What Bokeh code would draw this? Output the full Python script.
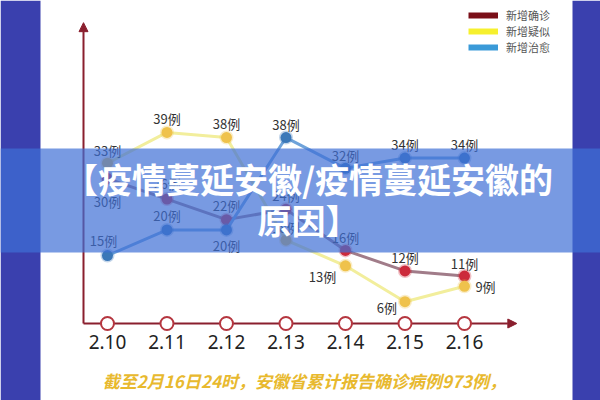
from bokeh.plotting import figure
from bokeh.models import (ColumnDataSource, Range1d, BoxAnnotation, Label, Arrow,
                          NormalHead, Legend, LegendItem)
from bokeh.core.properties import value
from bokeh.embed import file_html
from bokeh.resources import INLINE

# data
dates = ["2.10", "2.11", "2.12", "2.13", "2.14", "2.15", "2.16"]
confirmed = [30, 26, 22, 24, 16, 12, 11]   # 新增确诊
suspected = [33, 39, 38, 18, 13, 6, 9]     # 新增疑似
cured = [15, 20, 20, 38, 32, 34, 34]       # 新增治愈
series_names = ["新增确诊", "新增疑似", "新增治愈"]
title_lines = ["【疫情蔓延安徽/疫情蔓延安徽的", "原因】"]
note = "截至2月16日24时，安徽省累计报告确诊病例973例，"

# label placement (pixels) for each point, per series
conf_dx = [0, 0, 0, 0, 0, 0, 0]
conf_dy = [23, -16, -14, -14, -13, -13, -13]
susp_dx = [0, 0, 0, 0, -23, -18, 21]
susp_dy = [-13, -14, -14, -13, 11, 6, 0]
cured_dx = [-4, 0, 0, 0, 0, 0, 0]
cured_dy = [-15, -14, 16, -13, -13, -14, -14]

CJK = "Noto Sans CJK SC"

p = figure(width=600, height=400, output_backend="svg", toolbar_location=None,
           x_axis_location=None, y_axis_location=None, min_border=0,
           x_range=Range1d(-1.798, 8.286), y_range=Range1d(-13.26, 64.72))
p.grid.visible = False
p.outline_line_color = None
p.background_fill_color = "white"
p.border_fill_color = "white"

idx = list(range(len(dates)))

# axes drawn as arrows
head_kw = dict(size=9, fill_color="#8a1f2e", line_color="#8a1f2e")
p.add_layout(Arrow(end=NormalHead(**head_kw), x_start=-0.403, y_start=1.75,
                   x_end=-0.403, y_end=60.4, line_color="#8a1f2e", line_width=2,
                   level="underlay"))
p.add_layout(Arrow(end=NormalHead(**head_kw), x_start=-0.403, y_start=1.75,
                   x_end=6.88, y_end=1.75, line_color="#8a1f2e", line_width=2,
                   level="underlay"))

series = [
    (confirmed, "#a17c89", "#cc2a3b", conf_dx, conf_dy),
    (suspected, "#f2ee9c", "#efc24c", susp_dx, susp_dy),
    (cured, "#6fa3da", "#3b78b8", cured_dx, cured_dy),
]
for vals, line_c, dot_c, dx, dy in series:
    src = ColumnDataSource(data=dict(x=idx, y=vals, lab=[f"{v}例" for v in vals],
                                     dx=dx, dy=dy))
    p.line("x", "y", source=src, line_color=line_c, line_width=3)
    p.scatter("x", "y", source=src, size=11, fill_color=dot_c,
              line_color=dot_c, line_alpha=0.3, line_width=3)
    p.text("x", "y", text="lab", source=src, x_offset="dx", y_offset="dy",
           text_align="center", text_baseline="middle", text_font=value(CJK),
           text_font_size="13px", text_color="#333333")

# date markers on the x axis
tick_src = ColumnDataSource(data=dict(x=idx, y=[1.75] * len(idx), lab=dates,
                                      ly=[-1.95] * len(idx)))
p.scatter("x", "y", source=tick_src, size=13, fill_color="white",
          line_color="#b5363f", line_width=2)
p.text("x", "ly", text="lab", source=tick_src, text_align="center",
       text_baseline="middle", text_font=value("Noto Sans"),
       text_font_size="19px", text_color="#222222")

# footnote
p.text(x=[3.31], y=[-9.36], text=[note], text_align="center",
       text_baseline="middle", text_font=value(CJK), text_font_size="17px",
       text_font_style="bold italic", text_color="#e8b92e")

# legend with its own swatch colours (hidden proxy renderers)
legend_colors = ["#7a0f18", "#f6f02e", "#3a9ad8"]
items = []
for name, c, vals in zip(series_names, legend_colors, [confirmed, suspected, cured]):
    r = p.line(x=idx, y=vals, line_color=c, line_width=6, visible=False)
    items.append(LegendItem(label=name, renderers=[r]))
legend = Legend(items=items, location=(468, 345), glyph_width=30, glyph_height=16,
                label_height=16, spacing=0, padding=0, margin=0, label_standoff=8,
                label_text_font=CJK, label_text_font_size="11px",
                label_text_color="#555555", border_line_color=None,
                background_fill_alpha=0, inactive_fill_alpha=0)
p.add_layout(legend)

# page decoration: side strips and the banner with the heading
p.add_layout(BoxAnnotation(right=40, right_units="screen", fill_color="#3a40ae",
                           fill_alpha=1, line_color=None))
p.add_layout(BoxAnnotation(left=572, left_units="screen", fill_color="#3a40ae",
                           fill_alpha=1, line_color=None))
p.add_layout(BoxAnnotation(bottom=148, top=252, bottom_units="screen",
                           top_units="screen", fill_color="#3f6fd6",
                           fill_alpha=0.7, line_color=None))
for i, line in enumerate(title_lines):
    p.add_layout(Label(x=308, y=222 - 41 * i, x_units="screen", y_units="screen",
                       text=line, text_align="center", text_baseline="middle",
                       text_font=CJK, text_font_size="34px",
                       text_font_style="bold", text_color="white"))

open("out.html", "w").write(file_html(p, INLINE))
